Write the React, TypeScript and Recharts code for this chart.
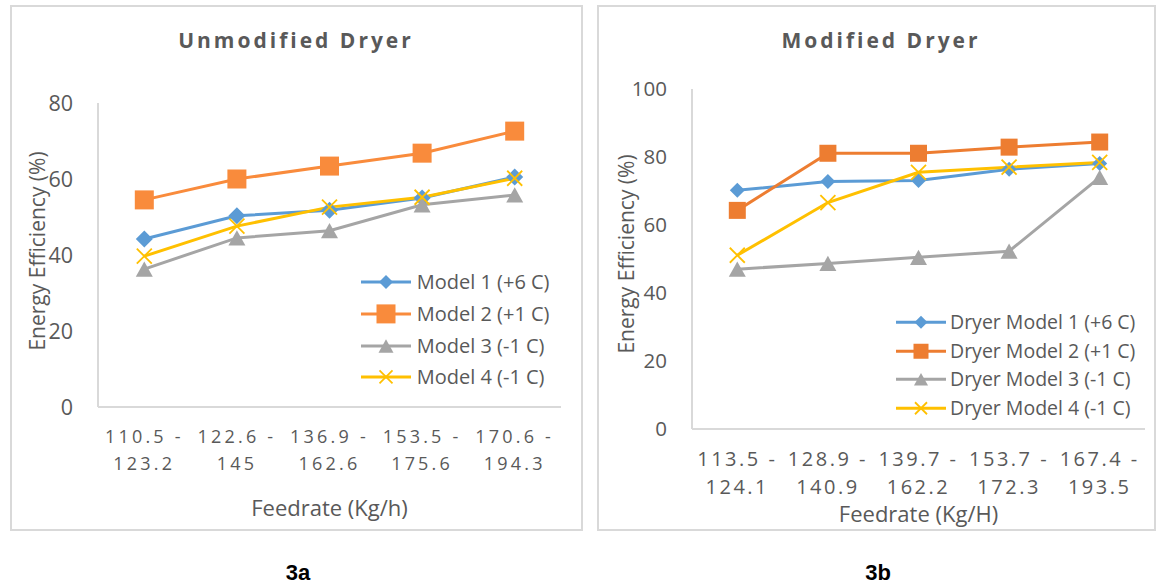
import React from 'react';
import { LineChart, Line, XAxis, YAxis, Legend, Label } from 'recharts';

// ---------- data ----------
const catsA = ['110.5 - 123.2', '122.6 - 145', '136.9 - 162.6', '153.5 - 175.6', '170.6 - 194.3'];
const namesA = ['Model 1 (+6 C)', 'Model 2 (+1 C)', 'Model 3 (-1 C)', 'Model 4 (-1 C)'];
const a1 = [44.2, 50.3, 51.8, 55.0, 60.5];
const a2 = [54.5, 60.0, 63.4, 66.8, 72.6];
const a3 = [36.3, 44.5, 46.4, 53.2, 55.8];
const a4 = [39.7, 47.6, 52.6, 55.2, 60.2];
const ticksA = [0, 20, 40, 60, 80];

const catsB = ['113.5 - 124.1', '128.9 - 140.9', '139.7 - 162.2', '153.7 - 172.3', '167.4 - 193.5'];
const namesB = ['Dryer Model 1 (+6 C)', 'Dryer Model 2 (+1 C)', 'Dryer Model 3 (-1 C)', 'Dryer Model 4 (-1 C)'];
const b1 = [70.2, 72.8, 73.1, 76.4, 78.1];
const b2 = [64.3, 81.1, 81.1, 82.9, 84.4];
const b3 = [47.0, 48.7, 50.5, 52.3, 74.0];
const b4 = [51.1, 66.6, 75.5, 77.0, 78.4];
const ticksB = [0, 20, 40, 60, 80, 100];

// ---------- styles ----------
const FONT = "'Open Sans', sans-serif";
const TXT = '#595959';
const AX = '#d9d9d9';

type Shape = 'diamond' | 'square' | 'triangle' | 'x';

function Marker({ shape, cx, cy, size, color }: { shape: Shape; cx: number; cy: number; size: number; color: string }) {
  const h = size / 2;
  if (shape === 'diamond')
    return <polygon points={`${cx},${cy - h} ${cx + h},${cy} ${cx},${cy + h} ${cx - h},${cy}`} fill={color} />;
  if (shape === 'square') return <rect x={cx - h} y={cy - h} width={size} height={size} fill={color} />;
  if (shape === 'triangle') {
    const v = size * 0.45;
    return <polygon points={`${cx},${cy - v} ${cx + h},${cy + v} ${cx - h},${cy + v}`} fill={color} />;
  }
  return (
    <g stroke={color} strokeWidth={1.8}>
      <line x1={cx - h} y1={cy - h} x2={cx + h} y2={cy + h} />
      <line x1={cx - h} y1={cy + h} x2={cx + h} y2={cy - h} />
    </g>
  );
}

type Series = { key: string; name: string; values: number[]; color: string; shape: Shape; size: number; lsize: number };

function buildData(cats: string[], series: Series[]) {
  return cats.map((c, i) => {
    const row: any = { cat: c };
    series.forEach((s) => (row[s.key] = s.values[i]));
    return row;
  });
}

const seriesA: Series[] = [
  { key: 'm1', name: namesA[0], values: a1, color: '#5B9BD5', shape: 'diamond', size: 17, lsize: 14 },
  { key: 'm2', name: namesA[1], values: a2, color: '#F98B3C', shape: 'square', size: 19, lsize: 19 },
  { key: 'm3', name: namesA[2], values: a3, color: '#A5A5A5', shape: 'triangle', size: 17, lsize: 15 },
  { key: 'm4', name: namesA[3], values: a4, color: '#FFC000', shape: 'x', size: 15, lsize: 13 },
];
const seriesB: Series[] = [
  { key: 'm1', name: namesB[0], values: b1, color: '#5B9BD5', shape: 'diamond', size: 15, lsize: 13 },
  { key: 'm2', name: namesB[1], values: b2, color: '#ED7D31', shape: 'square', size: 17, lsize: 15 },
  { key: 'm3', name: namesB[2], values: b3, color: '#A5A5A5', shape: 'triangle', size: 17, lsize: 14 },
  { key: 'm4', name: namesB[3], values: b4, color: '#FFC000', shape: 'x', size: 15, lsize: 12 },
];

const dataA = buildData(catsA, seriesA);
const dataB = buildData(catsB, seriesB);

const makeTick = (fs: number, ls: number, d1: number, d2: number) => (props: any) => {
  const { x, y, payload } = props;
  const parts = String(payload.value).split(' - ');
  const st = { fontFamily: FONT, fontSize: fs, fill: TXT, letterSpacing: ls };
  return (
    <g>
      <text x={x} y={y + d1} textAnchor="middle" style={st}>{parts[0] + ' -'}</text>
      <text x={x} y={y + d2} textAnchor="middle" style={st}>{parts[1]}</text>
    </g>
  );
};

const makeLegend = (series: Series[], rowH: number, fs: number, gap: number) => () => (
  <div style={{ fontFamily: FONT, fontSize: fs, color: TXT }}>
    {series.map((s) => (
      <div key={s.key} style={{ display: 'flex', alignItems: 'center', height: rowH, whiteSpace: 'nowrap' }}>
        <svg width={50} height={rowH} style={{ display: 'block' }}>
          <line x1={0} y1={rowH / 2} x2={50} y2={rowH / 2} stroke={s.color} strokeWidth={3} />
          <Marker shape={s.shape} cx={25} cy={rowH / 2} size={s.lsize} color={s.color} />
        </svg>
        <span style={{ marginLeft: gap, lineHeight: `${rowH}px` }}>{s.name}</span>
      </div>
    ))}
  </div>
);

type PanelCfg = {
  left: number; top: number; width: number; height: number;
  margin: { top: number; right: number; bottom: number; left: number };
  pad: number;
  data: any[]; series: Series[]; ticks: number[]; max: number;
  title: string; titleX: number; titleY: number;
  yFs: number; xTick: (p: any) => any;
  xTitle: string; xTitleDy: number; yTitleX: number; yTitleY: number;
  legend: () => any; legendLeft: number; legendTop: number;
};

function Panel({ c }: { c: PanelCfg }) {
  return (
    <div style={{ position: 'absolute', left: c.left, top: c.top, width: c.width, height: c.height }}>
      <div style={{ position: 'absolute', left: 0, top: 0, width: c.width, height: c.height, border: `2px solid ${AX}`, boxSizing: 'border-box' }} />
      <div style={{ position: 'absolute', left: 0, top: 0 }}>
        <LineChart width={c.width} height={c.height} data={c.data} margin={c.margin}>
          <text x={c.titleX} y={c.titleY} textAnchor="middle"
            style={{ fontFamily: FONT, fontSize: 21, fontWeight: 700, fill: TXT, letterSpacing: 3 }}>{c.title}</text>
          <XAxis dataKey="cat" interval={0} tickLine={false} tickSize={0} tickMargin={0} height={70}
            padding={{ left: c.pad, right: c.pad }}
            axisLine={{ stroke: AX, strokeWidth: 2 }} tick={c.xTick}>
            <Label content={(p: any) => {
              const vb = p.viewBox;
              return (
                <text x={vb.x + vb.width / 2} y={vb.y + c.xTitleDy} textAnchor="middle" dominantBaseline="central"
                  style={{ fontFamily: FONT, fontSize: 22, fill: TXT }}>{c.xTitle}</text>
              );
            }} />
          </XAxis>
          <YAxis type="number" domain={[0, c.max]} ticks={c.ticks} width={60} tickLine={false} tickSize={0} tickMargin={25}
            axisLine={{ stroke: AX, strokeWidth: 2 }} tick={{ fontFamily: FONT, fontSize: c.yFs, fill: TXT }}>
            <Label content={() => (
              <text x={c.yTitleX} y={c.yTitleY} textAnchor="middle" dominantBaseline="central"
                transform={`rotate(-90, ${c.yTitleX}, ${c.yTitleY})`}
                style={{ fontFamily: FONT, fontSize: 21, fill: TXT }}>Energy Efficiency (%)</text>
            )} />
          </YAxis>
          <Legend layout="horizontal" verticalAlign="middle" align="center" content={c.legend}
            wrapperStyle={{ position: 'absolute', left: c.legendLeft, top: c.legendTop, width: 'auto', height: 'auto' }} />
          {c.series.map((s) => (
            <Line key={s.key} dataKey={s.key} name={s.name} type="linear" stroke={s.color} strokeWidth={3}
              isAnimationActive={false} activeDot={false}
              dot={(p: any) => <Marker key={`${s.key}-${p.index}`} shape={s.shape} cx={p.cx} cy={p.cy} size={s.size} color={s.color} />} />
          ))}
        </LineChart>
      </div>
    </div>
  );
}

const cfgA: PanelCfg = {
  left: 10, top: 5, width: 573, height: 526,
  margin: { top: 98, right: 22, bottom: 54, left: 28 },
  pad: 46.3,
  data: dataA, series: seriesA, ticks: ticksA, max: 80,
  title: 'Unmodified Dryer', titleX: 286, titleY: 43,
  yFs: 21.5, xTick: makeTick(18, 3.2, 36.3, 63),
  xTitle: 'Feedrate (Kg/h)', xTitleDy: 100, yTitleX: 27, yTitleY: 246,
  legend: makeLegend(seriesA, 31.8, 20, 5.7), legendLeft: 351, legendTop: 261,
};

const cfgB: PanelCfg = {
  left: 597, top: 5, width: 559, height: 526,
  margin: { top: 84, right: 11, bottom: 32, left: 35 },
  pad: 45.3,
  data: dataB, series: seriesB, ticks: ticksB, max: 100,
  title: 'Modified Dryer', titleX: 284, titleY: 43,
  yFs: 20.5, xTick: makeTick(20, 2.5, 37.3, 65.3),
  xTitle: 'Feedrate (Kg/H)', xTitleDy: 84.3, yTitleX: 29, yTitleY: 249,
  legend: makeLegend(seriesB, 28.5, 19.5, 4), legendLeft: 299, legendTop: 303,
};

export default function App() {
  const cap = { position: 'absolute' as const, top: 573, transform: 'translate(-50%, -50%)', fontFamily: "'Liberation Sans', Arial, sans-serif", fontWeight: 700, fontSize: 22, color: '#000' };
  return (
    <div style={{ position: 'absolute', left: 0, top: 0, width: 1156, height: 587, background: '#fff', overflow: 'hidden' }}>
      <Panel c={cfgA} />
      <Panel c={cfgB} />
      <div style={{ ...cap, left: 298 }}>3a</div>
      <div style={{ ...cap, left: 878 }}>3b</div>
    </div>
  );
}
